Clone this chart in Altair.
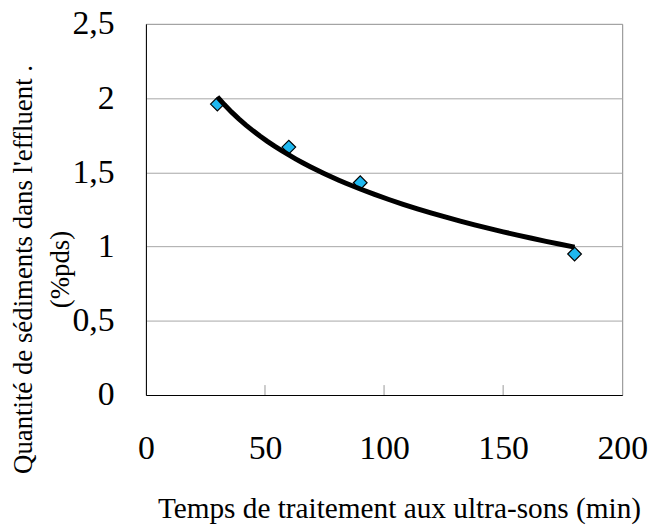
import altair as alt
import pandas as pd

# Data
time_min = [30, 60, 90, 180]
sediment_pct = [1.96, 1.67, 1.43, 0.95]
x_tick_values = [0, 50, 100, 150, 200]
y_tick_values = [0, 0.5, 1, 1.5, 2, 2.5]
inner_x_ticks = [50, 100, 150]

df = pd.DataFrame({"t": time_min, "s": sediment_pct})
ticks_df = pd.DataFrame({"t": inner_x_ticks})

FONT = "Liberation Serif"
W, H = 480, 374

xscale = alt.Scale(domain=[0, 200], nice=False, zero=False)
yscale = alt.Scale(domain=[0, 2.5], nice=False)

xaxis = alt.Axis(
    values=x_tick_values,
    title="Temps de traitement aux ultra-sons (min)",
    grid=False, ticks=False,
    domainColor="black", domainWidth=1,
    labelFont=FONT, labelFontSize=34, labelColor="black",
    labelBaseline="alphabetic", labelPadding=64,
    labelFlush=False, labelOverlap=False,
    titleFont=FONT, titleFontSize=29.5, titleFontWeight="normal", titleColor="black",
    titleX=255, titleY=123, titleBaseline="alphabetic", titleAlign="center",
)

yaxis = alt.Axis(
    values=y_tick_values,
    title=["Quantité de sédiments dans l'effluent .", "(%pds)"],
    grid=True, gridColor="#a6a6a6", gridWidth=1,
    ticks=False,
    domainColor="black", domainWidth=1,
    labelFont=FONT, labelFontSize=34, labelColor="black",
    labelPadding=32, labelFlush=False, labelOverlap=False,
    labelExpr="replace(toString(datum.value), '.', ',')",
    titleFont=FONT, titleFontSize=27, titleFontWeight="normal", titleColor="black",
    titleAngle=270, titleX=-115, titleY=247, titleAlign="center",
    titleBaseline="alphabetic", titleLineHeight=37,
)

x_enc = alt.X("t:Q", scale=xscale, axis=xaxis)
y_enc = alt.Y("s:Q", scale=yscale, axis=yaxis)

inner_ticks = alt.Chart(ticks_df).mark_rule(color="#999999", strokeWidth=1).encode(
    x=x_enc, y=alt.value(H - 10), y2=alt.value(H)
)

points = alt.Chart(df).mark_point(
    shape="diamond", filled=True, color="#1FB8F0", stroke="black",
    strokeWidth=1.2, size=190, opacity=1
).encode(x=x_enc, y=y_enc)

trend = alt.Chart(df).transform_regression(
    "t", "s", method="log"
).mark_line(color="black", strokeWidth=5).encode(x=x_enc, y=y_enc)

chart = alt.layer(inner_ticks, points, trend).properties(
    width=W, height=H,
    padding={"left": 139, "top": 14, "right": 26, "bottom": 132},
    autosize=alt.AutoSizeParams(type="none"),
).configure_view(stroke="#888888", strokeWidth=1)

chart.save("out.html", embed_options={"renderer": "svg", "actions": False})
